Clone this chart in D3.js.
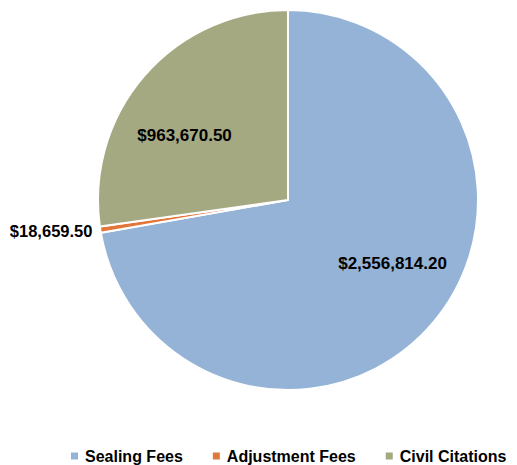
<!DOCTYPE html>
<html>
<head>
<meta charset="utf-8">
<script src="https://cdn.jsdelivr.net/npm/d3@7"></script>
<style>
  body { margin: 0; background: #fff; }
  text { font-family: "Liberation Sans", Arial, sans-serif; font-weight: bold; fill: #000; }
</style>
</head>
<body>
<div id="chart"></div>
<script>
// slices, clockwise from 12 o'clock
var categories = ["Sealing Fees", "Adjustment Fees", "Civil Citations"]
var amounts = [2556814.20, 18659.50, 963670.50]
var colors = ["#95B3D6", "#E2773A", "#A5A982"]

var width = 517, height = 465
var cx = 288, cy = 200, radius = 190

var data = categories.map(function (c, i) {
    return { name: c, value: amounts[i], color: colors[i] }
})

var svg = d3.select("#chart")
    .append("svg")
    .attr("width", width)
    .attr("height", height)

var g = svg.append("g")
    .attr("transform", "translate(" + cx + "," + cy + ")")

var pie = d3.pie()
    .sort(null)
    .value(function (d) { return d.value })

var arc = d3.arc().innerRadius(0).outerRadius(radius)
var labelArc = d3.arc().innerRadius(122).outerRadius(122)
var outerArc = d3.arc().innerRadius(radius + 8).outerRadius(radius + 8)

var arcs = pie(data)

g.selectAll("path")
    .data(arcs)
    .enter()
    .append("path")
    .attr("d", arc)
    .attr("fill", function (d) { return d.data.color })
    .attr("stroke", "#fff")
    .attr("stroke-width", 2)

var fmt = d3.format("$,.2f")
var nudge = -9 * Math.PI / 180  // excel "best fit" sits a bit counter-clockwise

// big slices get label inside, tiny one goes outside
arcs.forEach(function (d) {
    var share = (d.endAngle - d.startAngle) / (2 * Math.PI)
    if (share > 0.05) {
        var c = labelArc.centroid({ startAngle: d.startAngle + nudge, endAngle: d.endAngle + nudge })
        g.append("text")
            .attr("x", c[0])
            .attr("y", c[1])
            .attr("text-anchor", "middle")
            .attr("dy", "0.35em")
            .style("font-size", "17px")
            .text(fmt(d.data.value))
    } else {
        var p = outerArc.centroid(d)
        g.append("text")
            .attr("x", p[0])
            .attr("y", p[1])
            .attr("text-anchor", "end")
            .attr("dy", "0.35em")
            .style("font-size", "16.5px")
            .text(fmt(d.data.value))
    }
})

// legend
var legend = svg.append("g")
    .attr("transform", "translate(0,456)")

var lx = 71
categories.forEach(function (c, i) {
    var item = legend.append("g").attr("transform", "translate(" + lx + ",0)")
    item.append("rect")
        .attr("x", 0)
        .attr("y", -3.5)
        .attr("width", 7)
        .attr("height", 7)
        .attr("fill", colors[i])
    var t = item.append("text")
        .attr("x", 14)
        .attr("y", 0)
        .attr("dy", "0.35em")
        .style("font-size", "16px")
        .text(c)
    lx += 14 + t.node().getComputedTextLength() + 30
})
</script>
</body>
</html>
